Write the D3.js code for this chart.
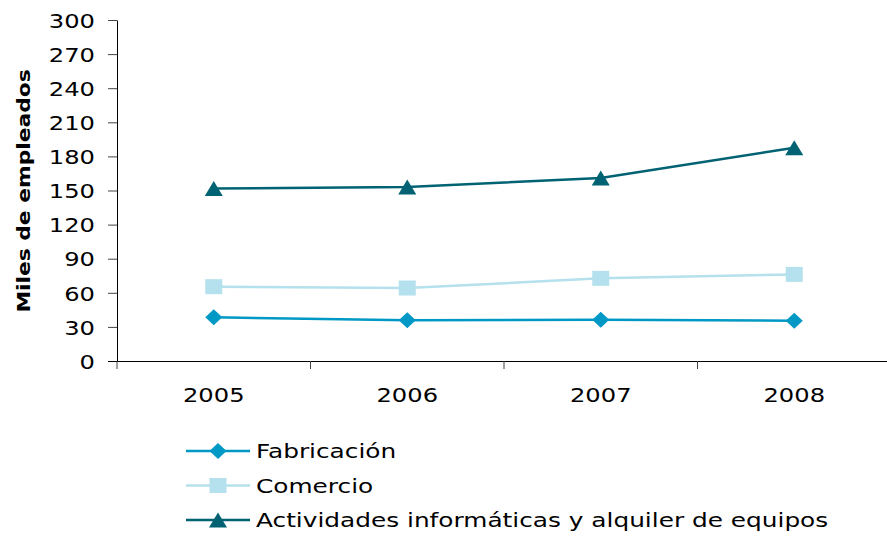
<!DOCTYPE html>
<html lang="es">
<head>
<meta charset="UTF-8">
<title>Miles de empleados</title>
<script src="https://cdn.jsdelivr.net/npm/d3@7"></script>
<style>
  body { margin: 0; background: #fff; }
  svg { display: block; }
</style>
</head>
<body>
<div id="grafica"></div>
<script>
// datos
const years = ['2005', '2006', '2007', '2008']
const fabricacion = [38.4, 35.8, 36.4, 35.5]
const comercio = [65.4, 64.2, 72.7, 76.2]
const actividades = [151.8, 153, 161, 187.7]
const yTicks = [0, 30, 60, 90, 120, 150, 180, 210, 240, 270, 300]

// marcadores (ancho x alto)
const diamante = 'M0,-8L8.5,0L0,8L-8.5,0Z'
const cuadrado = 'M-8.5,-7.5H8.5V7.5H-8.5Z'
const triangulo = 'M0,-7.5L9,7.5H-9Z'

const series = [
  { name: 'Fabricación', values: fabricacion, color: '#0098c4', marker: diamante },
  { name: 'Comercio', values: comercio, color: '#b4e1ed', marker: cuadrado },
  { name: 'Actividades informáticas y alquiler de equipos', values: actividades, color: '#006272', marker: triangulo }
]

const ancho = 887, alto = 537
const estirar = 'scale(1.21,1)'   // el texto del original esta algo ensanchado
const fuente = '"DejaVu Sans", Verdana, sans-serif'

const svg = d3.select('#grafica').append('svg')
  .attr('width', ancho).attr('height', alto)
  .style('font-family', fuente)

const x = d3.scaleBand().domain(years).range([117, 891])
const y = d3.scaleLinear().domain([0, 300]).range([361, 20])

// eje y
const gy = svg.append('g').attr('transform', 'translate(117,0)')
  .call(d3.axisLeft(y).tickValues(yTicks).tickSize(9).tickSizeOuter(0))
gy.select('.domain').attr('stroke', '#000')
gy.selectAll('.tick line').attr('stroke', '#444')
gy.selectAll('text')
  .attr('font-size', 20).attr('fill', '#000').attr('font-family', fuente)
  .attr('x', -22 / 1.21).attr('dy', '0.36em')
  .attr('transform', estirar)

// eje x
const gx = svg.append('g').attr('transform', 'translate(0,361)')
  .call(d3.axisBottom(x).tickSize(0).tickPadding(27))
gx.select('.domain').attr('d', 'M108,0.5H891').attr('stroke', '#000')
gx.selectAll('text')
  .attr('font-size', 20).attr('fill', '#000').attr('font-family', fuente)
  .attr('transform', estirar)
gx.selectAll('.sep').data(years).enter().append('line')
  .attr('class', 'sep')
  .attr('x1', d => x(d)).attr('x2', d => x(d))
  .attr('y1', 0).attr('y2', 8).attr('stroke', '#444')

// titulo eje y
svg.append('text')
  .attr('transform', 'translate(30,191) rotate(-90) ' + estirar)
  .attr('text-anchor', 'middle')
  .attr('font-size', 18).attr('font-weight', 'bold')
  .text('Miles de empleados')

const line = d3.line()
  .x((d, i) => x(years[i]) + x.bandwidth() / 2)
  .y(d => y(d))

series.forEach(s => {
  svg.append('path')
    .attr('d', line(s.values))
    .attr('fill', 'none')
    .attr('stroke', s.color)
    .attr('stroke-width', 2.5)

  svg.selectAll(null).data(s.values).enter().append('path')
    .attr('d', s.marker)
    .attr('transform', (d, i) => 'translate(' + (x(years[i]) + x.bandwidth() / 2) + ',' + y(d) + ')')
    .attr('fill', s.color)
})

// leyenda
const leg = svg.append('g')
series.forEach((s, i) => {
  const ly = 451 + i * 34.5
  leg.append('line')
    .attr('x1', 186).attr('x2', 250).attr('y1', ly).attr('y2', ly)
    .attr('stroke', s.color).attr('stroke-width', 2.5)
  leg.append('path')
    .attr('d', s.marker)
    .attr('transform', 'translate(218,' + ly + ')')
    .attr('fill', s.color)
  leg.append('text')
    .attr('transform', 'translate(256,' + ly + ') ' + 'scale(1.24,1)')
    .attr('dy', '0.36em')
    .attr('font-size', 20)
    .text(s.name)
})
</script>
</body>
</html>
